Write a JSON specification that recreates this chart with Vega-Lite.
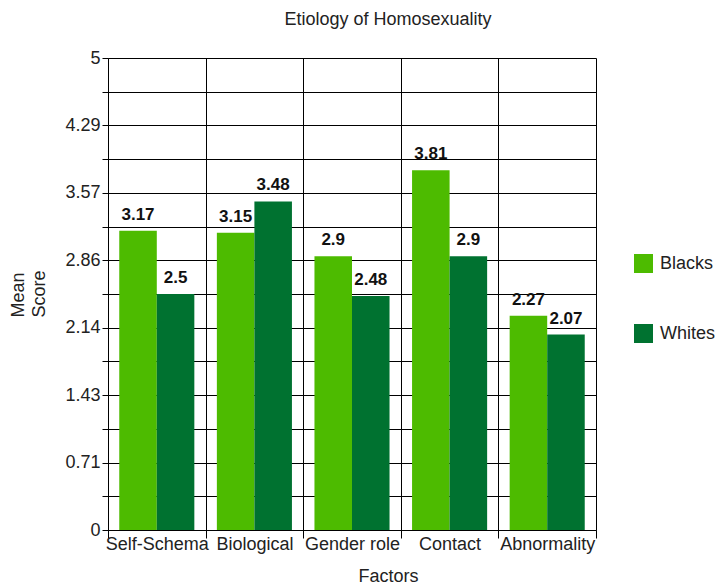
{
  "$schema": "https://vega.github.io/schema/vega-lite/v6.json",
  "width": 488,
  "height": 472,
  "autosize": "none",
  "padding": {"left": 108, "top": 58, "right": 121, "bottom": 56},
  "background": "white",
  "title": {
    "text": "Etiology of Homosexuality",
    "font": "Liberation Sans",
    "fontSize": 18,
    "fontWeight": "normal",
    "color": "#222",
    "anchor": "middle",
    "dx": 36,
    "offset": 6,
    "baseline": "alphabetic"
  },
  "config": {
    "view": {"stroke": null},
    "font": "Liberation Sans"
  },
  "data": {
    "values": [
      {"Factor": "Self-Schema", "Group": "Blacks", "Score": 3.17},
      {"Factor": "Self-Schema", "Group": "Whites", "Score": 2.5},
      {"Factor": "Biological", "Group": "Blacks", "Score": 3.15},
      {"Factor": "Biological", "Group": "Whites", "Score": 3.48},
      {"Factor": "Gender role", "Group": "Blacks", "Score": 2.9},
      {"Factor": "Gender role", "Group": "Whites", "Score": 2.48},
      {"Factor": "Contact", "Group": "Blacks", "Score": 3.81},
      {"Factor": "Contact", "Group": "Whites", "Score": 2.9},
      {"Factor": "Abnormality", "Group": "Blacks", "Score": 2.27},
      {"Factor": "Abnormality", "Group": "Whites", "Score": 2.07}
    ]
  },
  "encoding": {
    "x": {
      "field": "Factor",
      "type": "nominal",
      "sort": null,
      "scale": {"paddingInner": 0, "paddingOuter": 0},
      "axis": {
        "title": "Factors",
        "titleFont": "Liberation Sans",
        "titleFontSize": 18,
        "titleFontWeight": "normal",
        "titleColor": "#222",
        "titlePadding": 14,
        "titleX": 280,
        "labelAngle": 0,
        "labelFont": "Liberation Sans",
        "labelFontSize": 18,
        "labelColor": "#222",
        "labelPadding": -3,
        "tickBand": "extent",
        "tickSize": 8,
        "tickColor": "black",
        "domainColor": "black",
        "grid": true,
        "gridColor": "black",
        "gridOpacity": 1,
        "gridWidth": 1
      }
    },
    "xOffset": {"field": "Group", "type": "nominal", "scale": {"paddingInner": 0, "paddingOuter": 0.3}},
    "y": {
      "field": "Score",
      "type": "quantitative",
      "scale": {"domain": [0, 5], "nice": false},
      "axis": {
        "title": ["Mean", "Score"],
        "titleAngle": 270,
        "titleAlign": "left",
        "titleBaseline": "alphabetic",
        "titleX": -85,
        "titleY": 259,
        "titleFont": "Liberation Sans",
        "titleFontSize": 18,
        "titleFontWeight": "normal",
        "titleColor": "#222",
        "titleLineHeight": 21,
        "values": [0, 0.35714, 0.71429, 1.07143, 1.42857, 1.78571, 2.14286, 2.5, 2.85714, 3.21429, 3.57143, 3.92857, 4.28571, 4.64286, 5],
        "labelExpr": "abs(round(datum.value*7/5) - datum.value*7/5) < 0.01 ? format(datum.value, '.2~f') : ''",
        "labelFont": "Liberation Sans",
        "labelFontSize": 18,
        "labelColor": "#222",
        "labelPadding": 2,
        "tickSize": 6,
        "tickColor": "black",
        "domainColor": "black",
        "grid": true,
        "gridColor": "black",
        "gridOpacity": 1,
        "gridWidth": 1
      }
    }
  },
  "layer": [
    {
      "mark": {"type": "bar"},
      "encoding": {
        "color": {
          "field": "Group",
          "type": "nominal",
          "scale": {"domain": ["Blacks", "Whites"], "range": ["#4dbb00", "#007230"]},
          "legend": {
            "title": null,
            "orient": "none",
            "legendX": 526,
            "legendY": 196,
            "symbolType": "square",
            "symbolSize": 361,
            "symbolStrokeWidth": 0,
            "symbolOpacity": 1,
            "labelFont": "Liberation Sans",
            "labelFontSize": 18,
            "labelColor": "#222",
            "labelOffset": 7,
            "rowPadding": 51
          }
        }
      }
    },
    {
      "mark": {"type": "text", "fontWeight": "bold", "fontSize": 17, "font": "Liberation Sans", "baseline": "alphabetic", "dy": -11, "color": "#111"},
      "encoding": {
        "text": {"field": "Score", "type": "quantitative"}
      }
    }
  ]
}
